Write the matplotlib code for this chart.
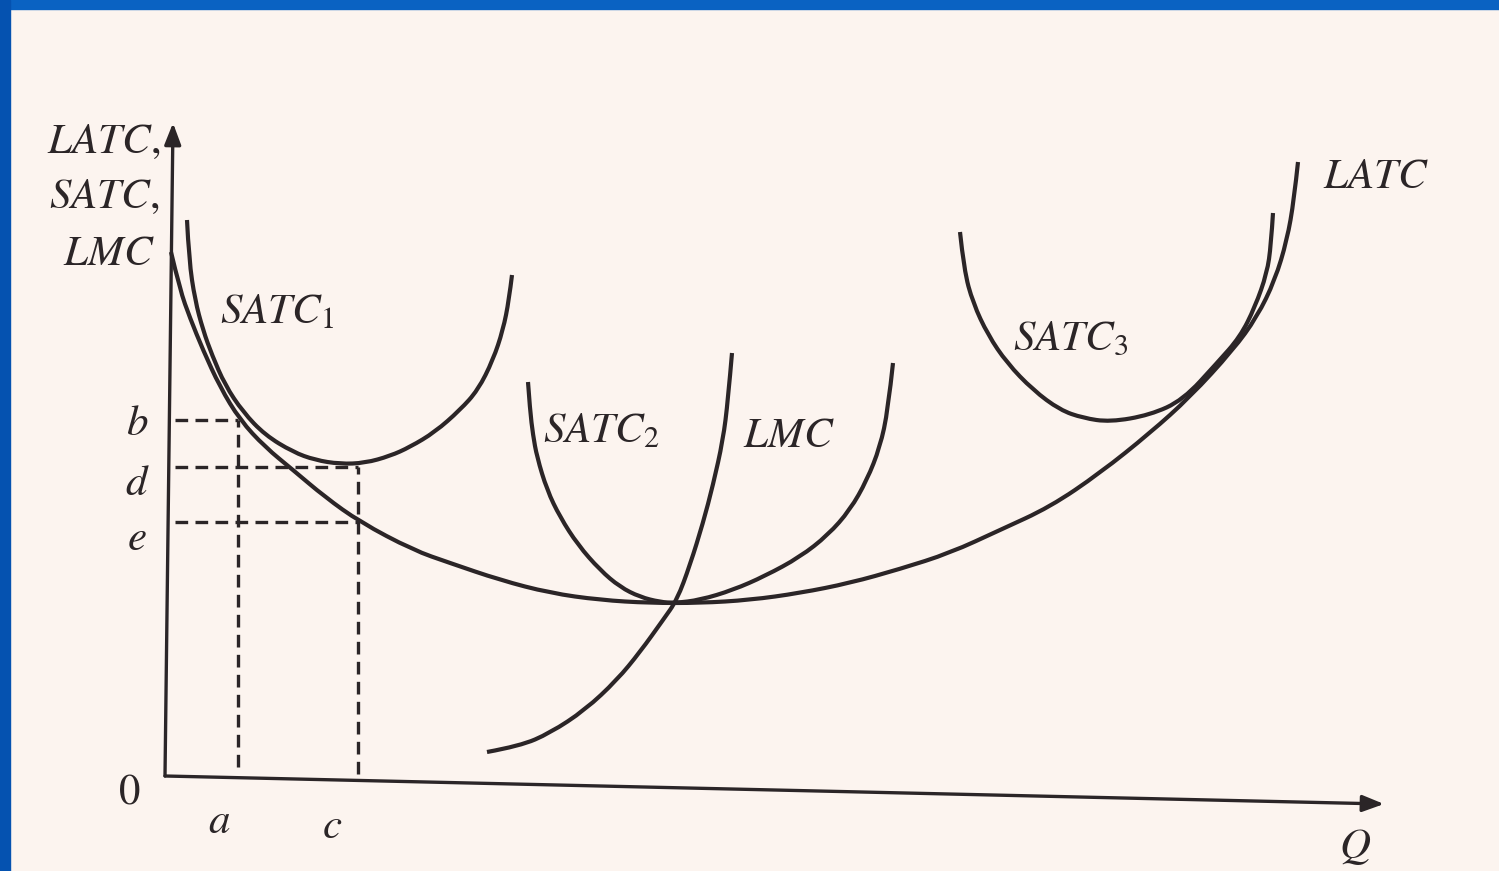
"""
Long-run and short-run average cost curves (LATC, SATC1-3, LMC)
"""

import matplotlib.pyplot as plt
from matplotlib.patches import Rectangle, PathPatch
from matplotlib.path import Path

plt.rcParams["mathtext.fontset"] = "stix"

# curve points (quantity, cost)
latc_q = [0.3, 1.2, 2.2, 3.5, 5.2, 7.2, 9.7, 12.5, 15.7, 19.2, 24.5, 28.2, 33.2, 38.2,
          43.2, 48.2, 53.2, 58.2, 63.2, 68.2, 73.2, 78.2, 83.2, 88.2, 93.2, 98.2,
          102.2, 106.5, 108.9, 110.7, 111.9, 112.6, 113.0]
latc_c = [52.4, 48.6, 45.8, 42.6, 38.9, 35.6, 32.9, 30.6, 27.9, 25.4, 22.6, 21.3, 19.6, 18.3,
          17.6, 17.3, 17.3, 17.6, 18.3, 19.3, 20.7, 22.3, 24.6, 26.9, 30.3, 34.3,
          37.9, 42.6, 45.9, 49.6, 53.6, 57.6, 61.4]

satc1_q = [1.9, 2.1, 2.7, 3.5, 4.4, 5.7, 7.5, 9.7, 12.5, 14.7, 17.2, 19.7, 22.2, 24.2,
           26.7, 29.2, 31.0, 32.5, 33.5, 34.1, 34.4]
satc1_c = [55.6, 51.6, 47.6, 44.6, 42.1, 39.1, 36.4, 34.1, 32.4, 31.6, 31.2, 31.3, 32.0, 32.9,
           34.4, 36.6, 38.6, 41.6, 44.6, 47.6, 50.1]

satc2_q = [36.0, 36.2, 36.5, 36.9, 37.9, 39.2, 41.0, 43.2, 45.2, 47.2, 49.2, 50.7, 53.2,
           56.5, 59.7, 63.2, 66.0, 68.2, 69.9, 71.2, 72.0, 72.5]
satc2_c = [39.4, 36.6, 34.1, 31.9, 28.6, 25.9, 23.1, 20.6, 18.9, 17.9, 17.4, 17.3, 17.6,
           18.6, 20.0, 21.9, 24.1, 26.6, 29.6, 32.9, 36.6, 41.3]

satc3_q = [79.2, 79.6, 80.5, 82.0, 83.9, 86.5, 89.2, 91.5, 94.2, 98.2, 101.5, 104.9,
           107.2, 108.7, 109.9, 110.3, 110.5]
satc3_c = [54.4, 50.6, 47.3, 44.1, 41.3, 38.6, 36.6, 35.8, 35.4, 36.1, 37.6, 41.3,
           43.9, 46.9, 50.3, 53.1, 56.3]

lmc_q = [31.9, 35.2, 38.2, 41.7, 44.9, 47.2, 49.5, 50.9, 52.2, 53.5, 54.5, 55.5, 56.0, 56.4]
lmc_c = [2.4, 3.0, 4.3, 6.6, 9.6, 12.4, 15.6, 17.6, 21.1, 25.3, 29.1, 33.6, 37.6, 42.3]

# marked quantities and cost levels
q_a, q_c = 7.0, 19.0
c_b, c_d, c_e = 35.6, 30.9, 25.4

ink = "#2b2527"
bg = "#fcf4ef"


def smooth_curve(ax, qs, cs, **kw):
    # read points used as quadratic Bezier control points, drawn by matplotlib's Path
    pts = list(zip(qs, cs))
    verts = [pts[0]]
    codes = [Path.MOVETO]
    for i in range(1, len(pts) - 1):
        nxt = pts[i + 1] if i + 1 == len(pts) - 1 else (
            (pts[i][0] + pts[i + 1][0]) / 2, (pts[i][1] + pts[i + 1][1]) / 2)
        verts += [pts[i], nxt]
        codes += [Path.CURVE3, Path.CURVE3]
    ax.add_patch(PathPatch(Path(verts, codes), fill=False, **kw))


fig = plt.figure(figsize=(14.99, 8.71), dpi=100, facecolor=bg)
ax = fig.add_axes([0, 0, 1, 1])
ax.set_facecolor(bg)
ax.set_xlim(-16.8, 133.1)
ax.set_ylim(-9.5, 77.6)
ax.axis("off")

# axes with arrows
ax.annotate("", xy=(0.5, 65.3), xytext=(-0.3, 0),
            arrowprops=dict(arrowstyle="-|>,head_length=1.3,head_width=0.5",
                            color=ink, lw=2.4, shrinkA=0, shrinkB=0))
ax.annotate("", xy=(121.6, -2.8), xytext=(-0.3, 0),
            arrowprops=dict(arrowstyle="-|>,head_length=1.3,head_width=0.5",
                            color=ink, lw=2.4, shrinkA=0, shrinkB=0))

curve = dict(edgecolor=ink, lw=3.0, capstyle="butt", joinstyle="round")
smooth_curve(ax, latc_q, latc_c, **curve)
smooth_curve(ax, satc1_q, satc1_c, **curve)
smooth_curve(ax, satc2_q, satc2_c, **curve)
smooth_curve(ax, satc3_q, satc3_c, **curve)
smooth_curve(ax, lmc_q, lmc_c, **curve)

# dashed guides
dash = dict(color=ink, lw=2.4, linestyle=(0, (3.8, 2.2)))
ax.plot([0.7, q_a], [c_b, c_b], **dash)
ax.plot([0.7, q_c], [c_d, c_d], **dash)
ax.plot([0.7, q_c], [c_e, c_e], **dash)
ax.plot([q_a, q_a], [0.9, c_b], **dash)
ax.plot([q_c, q_c], [0.2, c_d], **dash)

lab = dict(color=ink, fontsize=31, va="baseline")
ax.text(-0.8, 62.3, r"$LATC,$", ha="right", **lab)
ax.text(-0.8, 56.8, r"$SATC,$", ha="right", **lab)
ax.text(-1.3, 51.1, r"$LMC$", ha="right", **lab)
ax.text(5.2, 45.3, r"$SATC_1$", ha="left", **lab)
ax.text(37.5, 33.4, r"$SATC_2$", ha="left", **lab)
ax.text(57.5, 32.9, r"$LMC$", ha="left", **lab)
ax.text(84.5, 42.6, r"$SATC_3$", ha="left", **lab)
ax.text(115.5, 58.8, r"$LATC$", ha="left", **lab)

ax.text(-3.1, 34.1, r"$b$", ha="center", **lab)
ax.text(-3.1, 28.1, r"$d$", ha="center", **lab)
ax.text(-3.1, 22.6, r"$e$", ha="center", **lab)
ax.text(-3.9, -2.7, r"$0$", ha="center", **lab)
ax.text(5.1, -5.7, r"$a$", ha="center", **lab)
ax.text(16.4, -6.2, r"$c$", ha="center", **lab)
ax.text(118.7, -8.2, r"$Q$", ha="center", **lab)

# slide frame (blue strips on top and left)
fig.add_artist(Rectangle((0, 1 - 9 / 871), 1, 9 / 871, transform=fig.transFigure,
                         color="#0a62c2", zorder=10))
fig.add_artist(Rectangle((0, 0), 10 / 1499, 1, transform=fig.transFigure,
                         color="#0552b0", zorder=10))

plt.savefig("out.png", dpi=100, facecolor=bg)
